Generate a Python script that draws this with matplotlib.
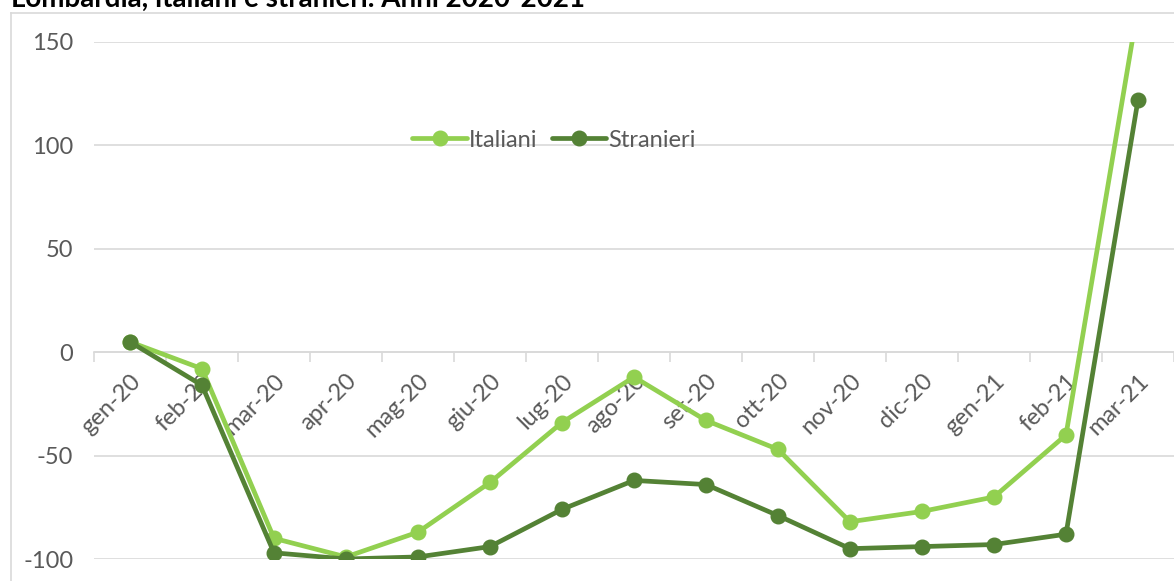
import numpy as np
import matplotlib
matplotlib.use("Agg")
import matplotlib.pyplot as plt
from matplotlib.lines import Line2D

# --- Data ---
mesi = ["gen-20", "feb-20", "mar-20", "apr-20", "mag-20", "giu-20", "lug-20",
        "ago-20", "set-20", "ott-20", "nov-20", "dic-20", "gen-21", "feb-21", "mar-21"]
italiani = [5, -8, -90, -99, -87, -63, -34, -12, -33, -47, -82, -77, -70, -40, 167]
stranieri = [5, -16, -97, -100, -99, -94, -76, -62, -64, -79, -95, -94, -93, -88, 122]
y_ticks = [-100, -50, 0, 50, 100, 150]

col_ita = "#92D050"
col_str = "#548235"
grey_txt = "#595959"
grey_line = "#D9D9D9"

plt.rcParams['font.family'] = ['Lato', 'DejaVu Sans']

fig = plt.figure(figsize=(11.74, 5.81), dpi=100)
ax = fig.add_axes([94 / 1174, 1 - 559 / 581, 1080 / 1174, 517 / 581])

x = np.arange(len(mesi))
ax.plot(x, italiani, color=col_ita, lw=3.4, marker='o', ms=10.5, label="Italiani",
        solid_capstyle='round', zorder=3)
ax.plot(x, stranieri, color=col_str, lw=3.4, marker='o', ms=10.5, label="Stranieri",
        solid_capstyle='round', zorder=3)

ax.set_xlim(-0.5, len(mesi) - 0.5)
ax.set_ylim(-100, 150)
ax.set_yticks(y_ticks)
ax.set_yticklabels([str(v) for v in y_ticks], color=grey_txt, fontsize=17)
ax.tick_params(axis='y', length=0, pad=15)
ax.grid(axis='y', color=grey_line, lw=1.2)
ax.set_axisbelow(True)

for s in ["top", "right", "left"]:
    ax.spines[s].set_visible(False)
ax.spines["bottom"].set_position(("data", 0))
ax.spines["bottom"].set_color(grey_line)
ax.spines["bottom"].set_linewidth(1.2)

# category labels at centres, tick marks at boundaries
ax.set_xticks(x)
ax.set_xticklabels(mesi, rotation=45, ha='right', va='top', rotation_mode='anchor',
                   color=grey_txt, fontsize=17)
ax.tick_params(axis='x', which='major', length=0, pad=13)
ax.set_xticks(np.arange(-0.5, len(mesi), 1), minor=True)
ax.tick_params(axis='x', which='minor', length=7, width=1.2, color=grey_line)

ax.legend(loc='center', bbox_to_anchor=(0.426, 0.81), ncol=2, frameon=False,
          fontsize=17, labelcolor=grey_txt, handlelength=2.3, handletextpad=0.1,
          columnspacing=0.6)

# chart area border (left and top) and cropped title
fig.add_artist(Line2D([11 / 1174, 11 / 1174], [0, 1 - 13 / 581], color=grey_line, lw=1.2))
fig.add_artist(Line2D([11 / 1174, 1], [1 - 13 / 581, 1 - 13 / 581], color=grey_line, lw=1.2))
fig.text(11 / 1174, 1 - 7 / 581, "Lombardia, italiani e stranieri. Anni 2020-2021",
         fontsize=20, fontweight='bold', color='black', ha='left', va='baseline')

fig.savefig("out.png", dpi=100)
